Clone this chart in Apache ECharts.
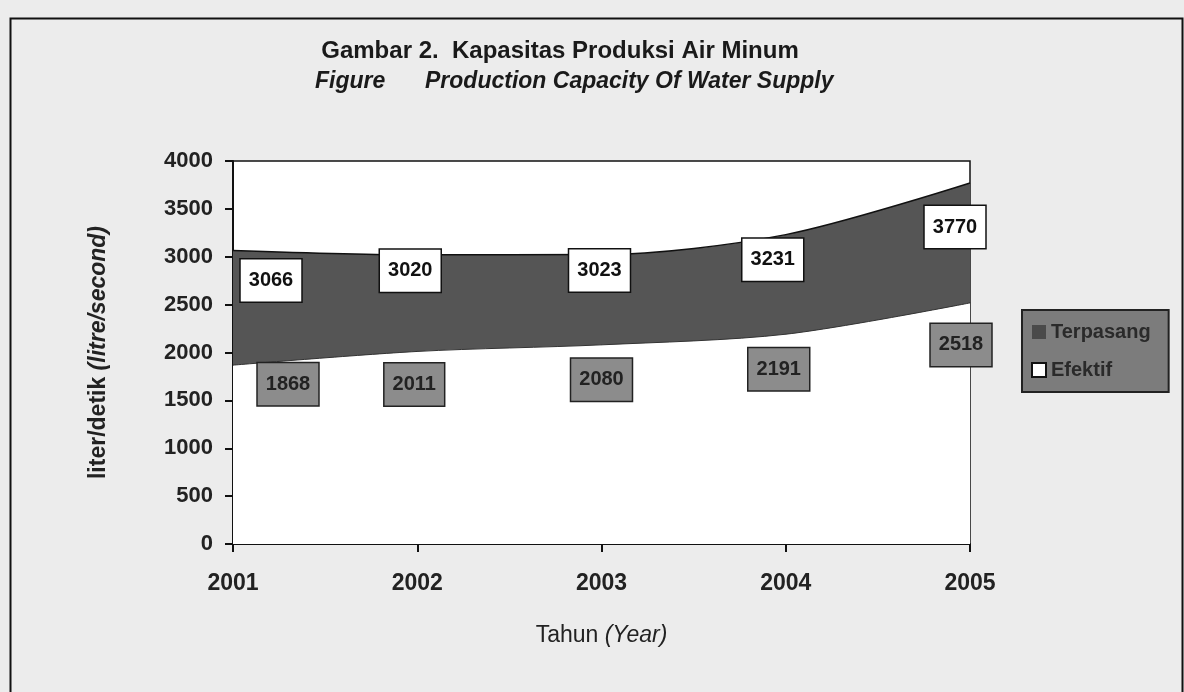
<!DOCTYPE html>
<html>
<head>
<meta charset="utf-8">
<script src="https://cdn.jsdelivr.net/npm/echarts@6/dist/echarts.min.js"></script>
<style>html,body{margin:0;padding:0;background:#ececec;}#c{width:1184px;height:692px;}</style>
</head>
<body>
<div id="c"></div>
<script>
const years = ['2001', '2002', '2003', '2004', '2005'];
const terpasang = [3066, 3020, 3023, 3231, 3770];
const efektif = [1868, 2011, 2080, 2191, 2518];
const yTicks = [0, 500, 1000, 1500, 2000, 2500, 3000, 3500, 4000];
const seriesNames = ['Terpasang', 'Efektif'];

const upOff = [[38, 30], [-7, 16], [-2, 16], [-13, 25], [-15, 44]];
const lowOff = [[55, 19], [-3, 33], [0, 35], [-7, 35], [-9, 42]];

const chart = echarts.init(document.getElementById('c'));
const F = 'Liberation Sans, Arial, sans-serif';

chart.setOption({
  backgroundColor: '#ececec',
  animation: false,
  title: [{
    text: 'Gambar 2.  Kapasitas Produksi Air Minum',
    left: 555, top: 34, textAlign: 'center',
    textStyle: { fontFamily: F, fontSize: 24, fontWeight: 'bold', color: '#1a1a1a' }
  }, {
    text: '{a|Figure}{b|Production Capacity Of Water Supply}',
    left: 310, top: 65,
    textStyle: {
      rich: {
        a: { fontFamily: F, fontSize: 23, fontWeight: 'bold', fontStyle: 'italic', color: '#1a1a1a', width: 110 },
        b: { fontFamily: F, fontSize: 23, fontWeight: 'bold', fontStyle: 'italic', color: '#1a1a1a' }
      }
    }
  }],
  legend: {
    orient: 'vertical',
    left: 1022, top: 310,
    padding: [12, 18, 12, 9],
    backgroundColor: '#7c7c7c',
    borderColor: '#222', borderWidth: 2,
    itemWidth: 14, itemHeight: 14, itemGap: 18,
    icon: 'rect',
    textStyle: { fontFamily: F, fontSize: 20, fontWeight: 'bold', color: '#2a2a2a' },
    data: seriesNames
  },
  grid: {
    left: 233, right: 214, top: 161, bottom: 148,
    show: true, backgroundColor: '#ffffff', borderColor: '#111', borderWidth: 1.5
  },
  xAxis: {
    type: 'category', data: years, boundaryGap: false,
    name: '{n|Tahun }{i|(Year)}', nameLocation: 'middle', nameGap: 80,
    nameTextStyle: { rich: {
      n: { fontFamily: F, fontSize: 23, color: '#222' },
      i: { fontFamily: F, fontSize: 23, fontStyle: 'italic', color: '#222' }
    } },
    axisLine: { lineStyle: { color: '#111', width: 2 } },
    axisTick: { show: true, alignWithLabel: true, length: 8, lineStyle: { color: '#111', width: 2 } },
    axisLabel: { fontFamily: F, fontSize: 23, fontWeight: 'bold', color: '#222', margin: 28 },
    splitLine: { show: false }
  },
  yAxis: {
    type: 'value', min: 0, max: 4000, interval: 500,
    name: '{n|liter/detik }{i|(litre/second)}', nameLocation: 'middle', nameGap: 123,
    nameTextStyle: { rich: {
      n: { fontFamily: F, fontSize: 23, fontWeight: 'bold', color: '#222' },
      i: { fontFamily: F, fontSize: 23, fontWeight: 'bold', fontStyle: 'italic', color: '#222' }
    } },
    axisLine: { show: true, lineStyle: { color: '#111', width: 2 } },
    axisTick: { show: true, length: 8, lineStyle: { color: '#111', width: 2 } },
    axisLabel: {
      fontFamily: F, fontSize: 22, fontWeight: 'bold', color: '#222', margin: 20,
      formatter: v => yTicks.includes(v) ? String(v) : ''
    },
    splitLine: { show: false }
  },
  series: [{
    name: seriesNames[0],
    type: 'line', smooth: 0.3, symbol: 'circle', symbolSize: 0.1, showSymbol: true, z: 2,
    itemStyle: { color: '#4a4a4a' },
    lineStyle: { color: '#111', width: 1.5 },
    areaStyle: { color: '#555555', opacity: 1 },
    data: terpasang.map((v, i) => ({
      value: v,
      label: { show: true, position: 'inside', offset: upOff[i] }
    })),
    label: {
      show: true, formatter: p => String(p.value),
      fontFamily: F, fontSize: 20, fontWeight: 'bold', color: '#111',
      backgroundColor: '#ffffff', borderColor: '#111', borderWidth: 1.5,
      padding: [12, 8, 10, 8]
    }
  }, {
    name: seriesNames[1],
    type: 'line', smooth: 0.3, symbol: 'circle', symbolSize: 0.1, showSymbol: true, z: 3,
    itemStyle: { color: '#ffffff', borderColor: '#111', borderWidth: 1 },
    lineStyle: { color: '#333', width: 1 },
    areaStyle: { color: '#ffffff', opacity: 1 },
    data: efektif.map((v, i) => ({
      value: v,
      label: { show: true, position: 'inside', offset: lowOff[i] }
    })),
    label: {
      show: true, formatter: p => String(p.value),
      fontFamily: F, fontSize: 20, fontWeight: 'bold', color: '#222',
      backgroundColor: '#8c8c8c', borderColor: '#222', borderWidth: 1.5,
      padding: [12, 8, 10, 8]
    }
  }],
  graphic: [{
    type: 'rect', left: 8, top: 16, silent: true, z: -1,
    shape: { width: 1172, height: 690 },
    style: { fill: 'none', stroke: '#111', lineWidth: 2 }
  }]
});
</script>
</body>
</html>
